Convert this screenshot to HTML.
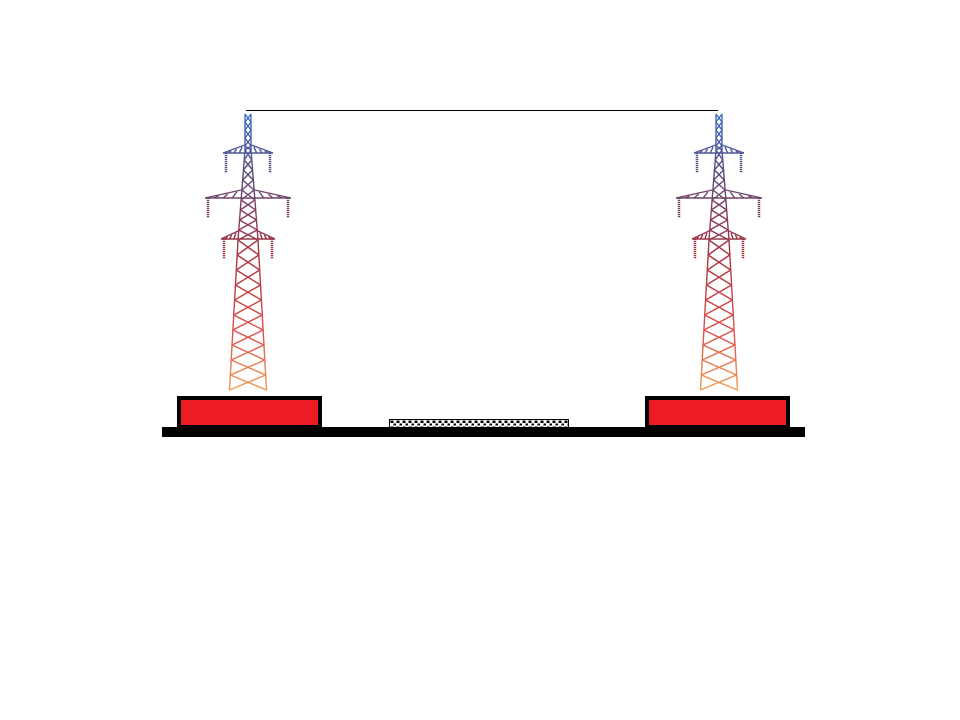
<!DOCTYPE html>
<html><head><meta charset="utf-8"><style>html,body{margin:0;padding:0;background:#fff;width:960px;height:720px;overflow:hidden}</style></head>
<body>
<svg id="s" width="960" height="720" viewBox="0 0 960 720" xmlns="http://www.w3.org/2000/svg">
<defs>
<linearGradient id="g" gradientUnits="userSpaceOnUse" x1="0" y1="114" x2="0" y2="392">
<stop offset="0" stop-color="#3b6fc0"/><stop offset="0.22" stop-color="#5a4a7a"/><stop offset="0.5" stop-color="#a8323e"/><stop offset="0.8" stop-color="#e0504a"/><stop offset="1" stop-color="#f0a050"/>
</linearGradient>
<pattern id="hp" width="6" height="6" patternUnits="userSpaceOnUse"><rect width="6" height="6" fill="#fff"/><rect x="0.5" y="0.5" width="3" height="2.5" fill="#000"/><rect x="3.5" y="3.5" width="2.5" height="2" fill="#000"/></pattern>
</defs>
<line x1="246" y1="110.5" x2="718" y2="110.5" stroke="#000" stroke-width="1"/>
<g id="tower" stroke="url(#g)" fill="none" stroke-width="1.4"></g>
<use href="#tower" x="471" y="0"/>
<rect x="179" y="398" width="141" height="29" fill="#ed1c24" stroke="#000" stroke-width="4"/>
<rect x="647" y="398" width="141" height="29" fill="#ed1c24" stroke="#000" stroke-width="4"/>
<rect x="389.5" y="419.5" width="179" height="8" fill="url(#hp)" stroke="#000" stroke-width="1"/>
<rect x="162" y="427" width="643" height="10" fill="#000"/>
</svg>
<script>
const g=document.getElementById('tower');const cx=248;
function L(x1,y1,x2,y2){const l=document.createElementNS('http://www.w3.org/2000/svg','line');l.setAttribute('x1',x1);l.setAttribute('y1',y1);l.setAttribute('x2',x2);l.setAttribute('y2',y2);g.appendChild(l);}
function hw(y){if(y<150)return 3;if(y<240)return 3+(y-150)/90*7;return 10+(y-240)/150*8.5;}
const ys=[114,122,130,138,146,150,160,170,180,190,200,210,220,230,240,255,270,285,300,315,330,345,360,375,390];
for(let i=0;i<ys.length-1;i++){const a=ys[i],b=ys[i+1];const wa=hw(a),wb=hw(b);
L(cx-wa,a,cx-wb,b);L(cx+wa,a,cx+wb,b);L(cx-wa,a,cx+wb,b);L(cx+wa,a,cx-wb,b);}
function arm(y,half,drop){const w=hw(y);
L(cx-half,y,cx+half,y);L(cx-half,y,cx-w,y-8);L(cx+half,y,cx+w,y-8);
for(let k=1;k<4;k++){const x=cx-w-(half-w)*k/4;L(x,y,x+(half-w)/8,y-8+8*k/4);const x2=cx+w+(half-w)*k/4;L(x2,y,x2-(half-w)/8,y-8+8*k/4);}
[cx-half+3,cx+half-3].forEach(x=>{const r=document.createElementNS('http://www.w3.org/2000/svg','line');r.setAttribute('x1',x);r.setAttribute('y1',y);r.setAttribute('x2',x);r.setAttribute('y2',y+drop);r.setAttribute('stroke-width','2.5');r.setAttribute('stroke-dasharray','1.2 0.8');g.appendChild(r);});}
arm(153,25,20);arm(198,43,20);arm(239,27,20);
</script>
</body></html>
